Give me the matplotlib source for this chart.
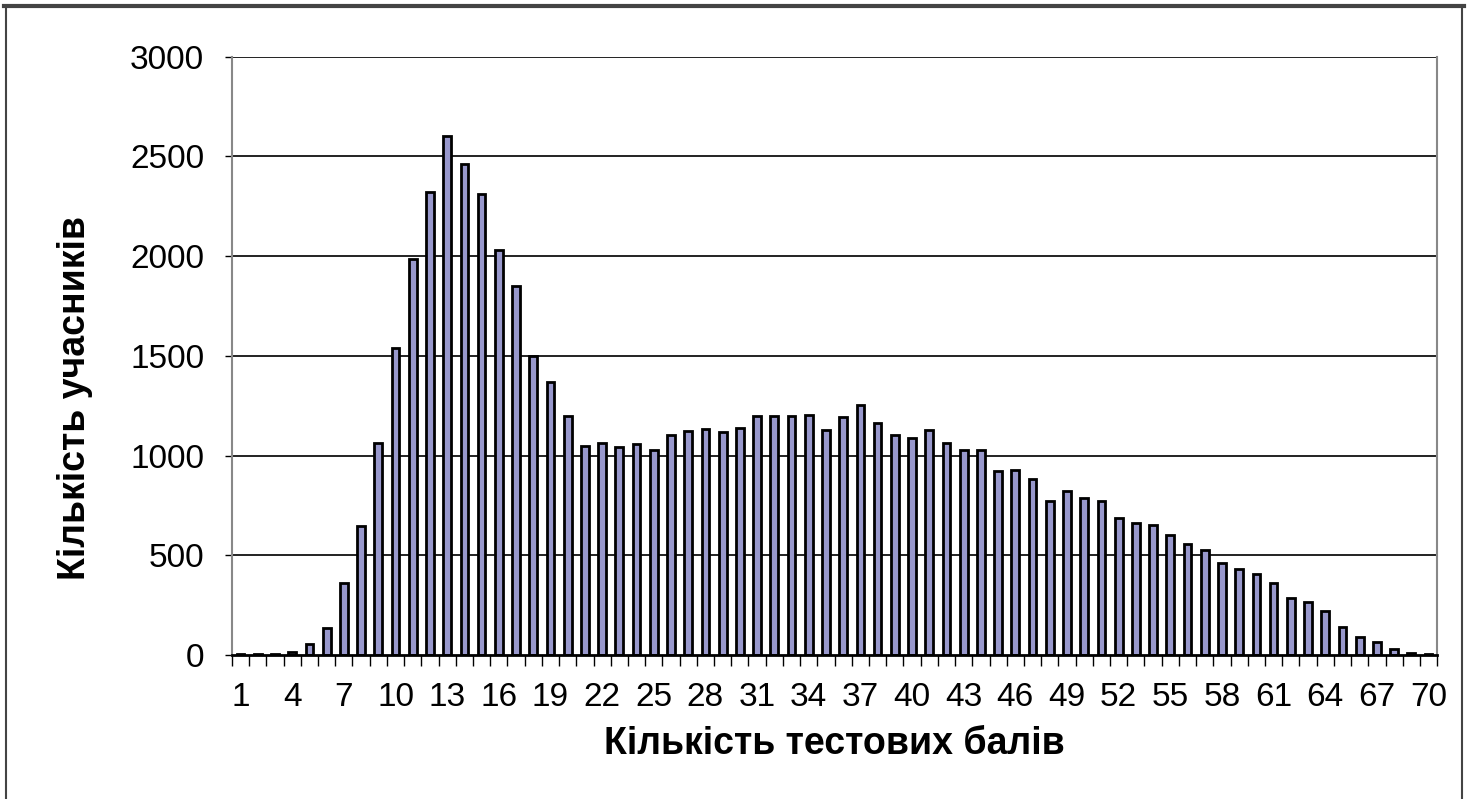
import matplotlib
matplotlib.use('Agg')
import matplotlib.pyplot as plt
from matplotlib.lines import Line2D
import numpy as np

plt.rcParams['font.family'] = ['Liberation Sans', 'DejaVu Sans']

# score -> number of participants
scores = list(range(1, 71))
counts = [5, 5, 5, 15, 55, 135, 360, 650, 1062, 1538,
          1985, 2320, 2605, 2460, 2310, 2030, 1850, 1500, 1370, 1200,
          1050, 1065, 1045, 1060, 1030, 1105, 1125, 1135, 1120, 1140,
          1200, 1200, 1200, 1205, 1130, 1195, 1255, 1165, 1105, 1090,
          1130, 1065, 1030, 1030, 925, 930, 885, 773, 825, 788,
          773, 690, 662, 655, 604, 556, 528, 462, 434, 407,
          364, 288, 268, 220, 141, 90, 68, 33, 13, 5]
yticks = [0, 500, 1000, 1500, 2000, 2500, 3000]
xlabels_at = list(range(1, 71, 3))

fig = plt.figure(figsize=(14.68, 7.99), dpi=100)
ax = fig.add_axes([0.158, 0.180, 0.821, 0.749])

# gridlines
for v in yticks[1:]:
    ax.axhline(v, color='#222222', lw=1.4, zorder=1)

ax.bar(scores, counts, width=0.45, color='#9898cc', edgecolor='black',
       linewidth=2.0, zorder=2)

ax.set_xlim(0.5, 70.5)
ax.set_ylim(0, 3000)
ax.set_yticks(yticks)
ax.set_yticklabels([str(v) for v in yticks], fontsize=24)
ax.set_xticks(xlabels_at)
ax.set_xticklabels([str(v) for v in xlabels_at], fontsize=24)
ax.tick_params(axis='x', length=0, pad=19)
ax.set_xticks(np.arange(0.5, 71, 1), minor=True)
ax.tick_params(axis='x', which='minor', length=8, width=1, direction='out')
ax.tick_params(axis='y', length=5, width=1, pad=15)

ax.spines['top'].set_visible(False)
ax.spines['left'].set_color('#888888')
ax.spines['left'].set_linewidth(1.5)
ax.spines['right'].set_color('#888888')
ax.spines['right'].set_linewidth(1.5)
ax.spines['bottom'].set_color('black')
ax.spines['bottom'].set_linewidth(2)

ax.set_ylabel('Кількість учасників', fontsize=27, fontweight='bold')
ax.yaxis.set_label_coords(-0.115, 0.43)
ax.set_xlabel('Кількість тестових балів', fontsize=27, fontweight='bold', labelpad=10)

# outer chart border
fig.add_artist(Line2D([0.003, 0.997], [0.993, 0.993], color='#444444', lw=3,
                      transform=fig.transFigure))
fig.add_artist(Line2D([0.004, 0.004], [0.0, 0.993], color='#444444', lw=1.5,
                      transform=fig.transFigure))
fig.add_artist(Line2D([0.996, 0.996], [0.0, 0.993], color='#444444', lw=1.5,
                      transform=fig.transFigure))

fig.savefig('out.png', dpi=100)
